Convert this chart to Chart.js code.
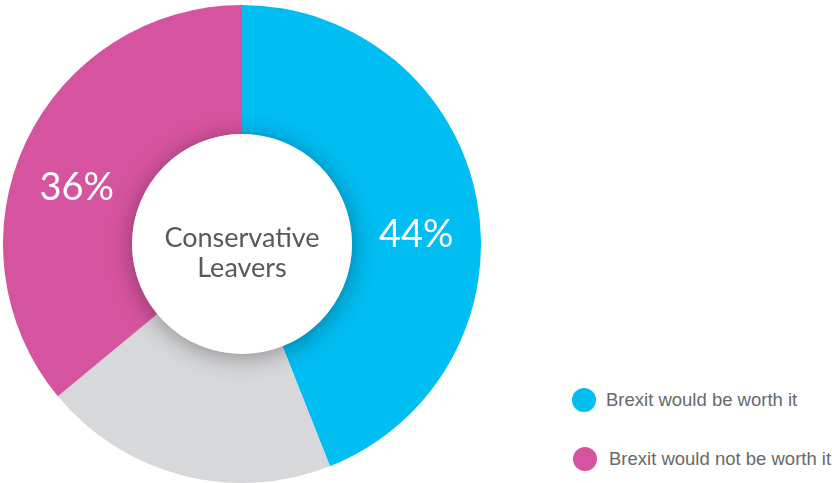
<!DOCTYPE html>
<html>
<head>
<meta charset="utf-8">
<script src="https://cdn.jsdelivr.net/npm/chart.js@4/dist/chart.umd.min.js"></script>
<style>
  html, body { margin: 0; padding: 0; background: #fff; width: 832px; height: 483px; overflow: hidden; }
  #wrap { position: absolute; left: 3px; top: 5px; width: 478px; height: 478px; }
  .leg { position: absolute; font-family: "Liberation Sans", Arial, sans-serif; font-size: 18.5px; line-height: 20px; color: #666a6a; white-space: nowrap; }
  .leg .dot { position: absolute; width: 24px; height: 24px; border-radius: 50%; left: 0; top: -2px; }
  .leg span.t { position: absolute; left: 34px; top: 0; }
</style>
</head>
<body>
<div id="wrap"><canvas id="c"></canvas></div>
<div id="legend"></div>
<script>
const categories = ["Brexit would be worth it", "Don't know", "Brexit would not be worth it"];
const values = [44, 20, 36];
const valueLabels = ["44%", "", "36%"];
const colors = ["#00BDF2", "#D7D8DA", "#D6549F"];
const centerLines = ["Conservative", "Leavers"];
const legendItems = [0, 2];

// legend (HTML)
const legendPos = [{left: 572, top: 390, text: 34}, {left: 573, top: 449, text: 36}];
const legEl = document.getElementById('legend');
legendItems.forEach((idx, i) => {
  const d = document.createElement('div');
  d.className = 'leg';
  d.style.left = legendPos[i].left + 'px';
  d.style.top = legendPos[i].top + 'px';
  d.innerHTML = '<div class="dot" style="background:' + colors[idx] + '"></div><span class="t" style="left:' + legendPos[i].text + 'px">' + categories[idx] + '</span>';
  legEl.appendChild(d);
});

const centerPlugin = {
  id: 'centerPlugin',
  afterDatasetsDraw(chart, args, opts) {
    const ctx = chart.ctx;
    const meta = chart.getDatasetMeta(0);
    const arc0 = meta.data[0];
    const cx = arc0.x, cy = arc0.y;
    const inner = arc0.innerRadius, outer = arc0.outerRadius;
    // value labels
    ctx.save();
    ctx.fillStyle = '#ffffff';
    ctx.font = '38px Lato, "Noto Sans", sans-serif';
    ctx.textAlign = 'center';
    ctx.textBaseline = 'middle';
    meta.data.forEach((arc, i) => {
      if (!valueLabels[i]) return;
      const f = opts.labelFrac[i];
      const a = arc.startAngle + (arc.endAngle - arc.startAngle) * f;
      const r = (inner + outer) / 2;
      ctx.fillText(valueLabels[i], cx + Math.cos(a) * r, cy + Math.sin(a) * r);
    });
    ctx.restore();
    // white centre disc with shadow
    ctx.save();
    ctx.beginPath();
    ctx.arc(cx, cy, inner, 0, Math.PI * 2);
    ctx.fillStyle = '#ffffff';
    ctx.shadowColor = 'rgba(0,0,0,0.35)';
    ctx.shadowBlur = 24;
    ctx.shadowOffsetY = 3;
    ctx.fill();
    ctx.restore();
    // centre text
    ctx.save();
    ctx.fillStyle = '#58595b';
    ctx.font = '27px Lato, "Noto Sans", sans-serif';
    ctx.textAlign = 'center';
    ctx.textBaseline = 'middle';
    ctx.fillText(centerLines[0], cx, cy - 6);
    ctx.fillText(centerLines[1], cx, cy + 24);
    ctx.restore();
  }
};

new Chart(document.getElementById('c'), {
  type: 'doughnut',
  data: {
    labels: categories,
    datasets: [{
      data: values,
      backgroundColor: colors,
      borderWidth: 0,
      hoverOffset: 0
    }]
  },
  options: {
    responsive: true,
    maintainAspectRatio: false,
    animation: false,
    cutout: '46%',
    layout: { padding: 0 },
    plugins: {
      legend: { display: false },
      tooltip: { enabled: false },
      centerPlugin: { labelFrac: [0.55, 0.5, 0.45] }
    }
  },
  plugins: [centerPlugin]
});
</script>
</body>
</html>
